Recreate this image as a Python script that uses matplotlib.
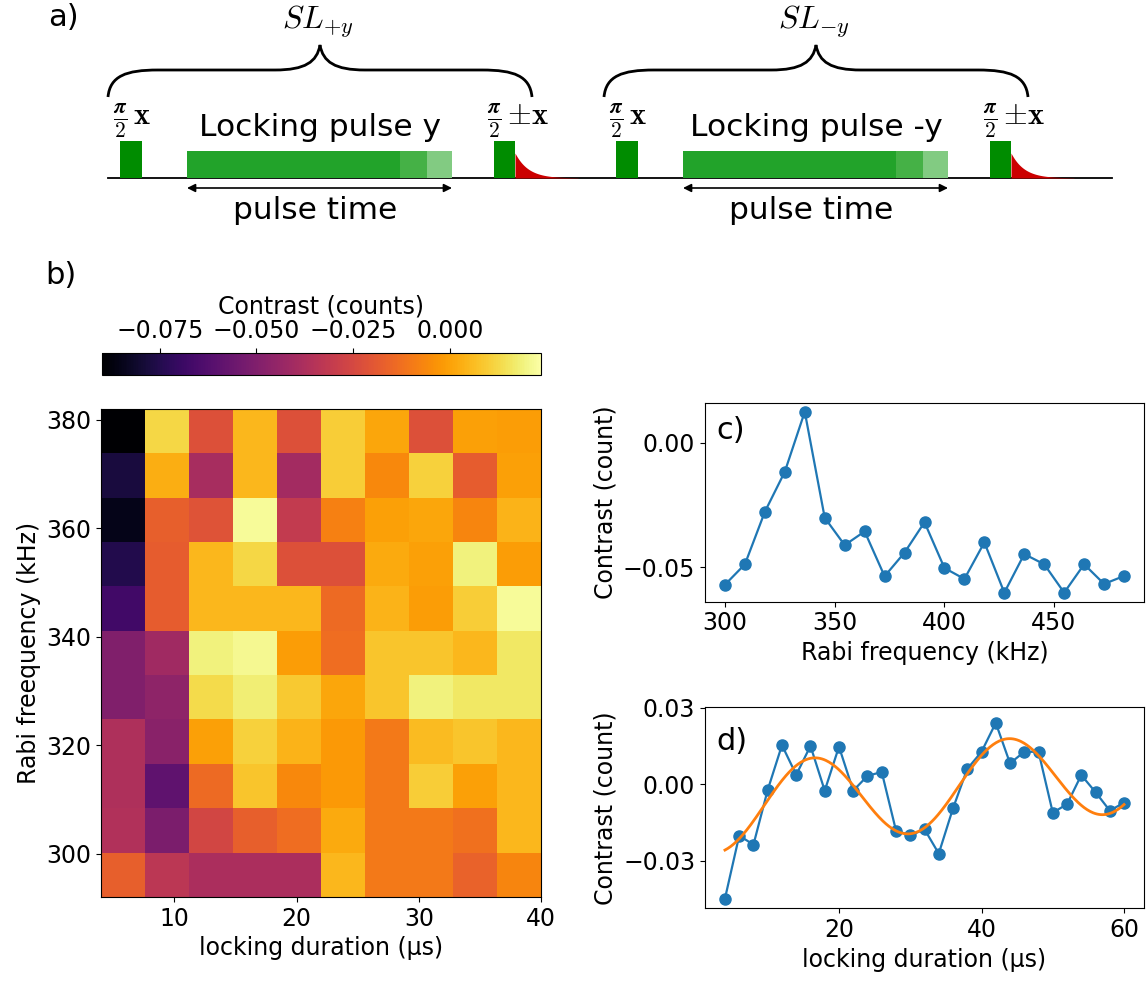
import numpy as np
import matplotlib
matplotlib.use('Agg')
import matplotlib.pyplot as plt
from matplotlib.path import Path
from matplotlib.patches import PathPatch, Rectangle, FancyArrowPatch

plt.rcParams['mathtext.fontset'] = 'cm'
plt.rcParams['font.family'] = ['DejaVu Sans']
plt.rcParams['font.size'] = 17

# ---------------- data ----------------
# panel b: heatmap (rows top->bottom = high->low Rabi frequency)
lock_extent = [4, 40]
rabi_extent = [292, 382]
heat_rows = [
    [-0.090, 0.012, -0.022, 0.005, -0.022, 0.010, 0.001, -0.022, 0.000, -0.001],
    [-0.078, 0.003, -0.039, 0.005, -0.040, 0.010, -0.006, 0.011, -0.018, 0.000],
    [-0.085, -0.017, -0.021, 0.022, -0.031, -0.008, 0.000, 0.001, -0.007, 0.004],
    [-0.075, -0.018, 0.005, 0.012, -0.022, -0.022, 0.002, 0.000, 0.019, -0.001],
    [-0.067, -0.018, 0.005, 0.005, 0.005, -0.014, 0.004, -0.001, 0.010, 0.022],
    [-0.050, -0.041, 0.019, 0.021, -0.001, -0.013, 0.008, 0.008, 0.005, 0.016],
    [-0.050, -0.046, 0.013, 0.018, 0.009, 0.001, 0.008, 0.019, 0.016, 0.016],
    [-0.037, -0.047, 0.000, 0.011, 0.004, -0.002, -0.010, 0.006, 0.008, 0.005],
    [-0.037, -0.059, -0.014, 0.008, -0.006, -0.002, -0.010, 0.010, 0.000, 0.005],
    [-0.036, -0.051, -0.026, -0.017, -0.013, 0.002, -0.010, -0.010, -0.012, 0.005],
    [-0.017, -0.033, -0.038, -0.038, -0.038, 0.005, -0.010, -0.010, -0.016, -0.007],
]
cbar_ticks = [-0.075, -0.050, -0.025, 0.000]
cbar_vmin, cbar_vmax = -0.090, 0.0235

# panel c
c_freq = [300.0, 309.1, 318.2, 327.3, 336.4, 345.5, 354.6, 363.7, 372.8, 381.9,
          391.0, 400.1, 409.2, 418.3, 427.4, 436.5, 445.6, 454.7, 463.8, 472.9, 482.0]
c_contrast = [-0.0570, -0.0488, -0.0277, -0.0116, 0.0125, -0.0301, -0.0411, -0.0356,
              -0.0536, -0.0441, -0.0319, -0.0503, -0.0547, -0.0400, -0.0602, -0.0447,
              -0.0488, -0.0602, -0.0488, -0.0567, -0.0535]

# panel d
d_time = [4, 6, 8, 10, 12, 14, 16, 18, 20, 22, 24, 26, 28, 30, 32, 34, 36, 38, 40,
          42, 44, 46, 48, 50, 52, 54, 56, 58, 60]
d_contrast = [-0.0447, -0.0201, -0.0236, -0.0022, 0.0153, 0.0037, 0.0150, -0.0025,
              0.0147, -0.0025, 0.0033, 0.0048, -0.0181, -0.0200, -0.0176, -0.0271,
              -0.0094, 0.0060, 0.0127, 0.0240, 0.0082, 0.0127, 0.0127, -0.0111,
              -0.0078, 0.0036, -0.0031, -0.0103, -0.0072]
# sinusoid + linear trend fit parameters
fit_amp, fit_period, fit_t0, fit_offset, fit_slope = 0.0167, 27.3, 9.5, -0.0109, 0.000275

W, H = 1148, 981
fig = plt.figure(figsize=(W / 100, H / 100), dpi=100)

def fbox(l, t, r, b):
    return [l / W, 1 - b / H, (r - l) / W, (b - t) / H]

# ---------------- panel a: pulse schematic ----------------
TOP_H = 250
axa = fig.add_axes([0, 1 - TOP_H / H, 1, TOP_H / H])
axa.set_xlim(0, W)
axa.set_ylim(TOP_H, 0)
axa.axis('off')

base_y = 178
axa.plot([108, 1112], [base_y, base_y], color='black', lw=1.3, zorder=1)

def brace(ax, x0, x1, y_end=97, y_mid=70, y_tip=45):
    xc = 0.5 * (x0 + x1)
    verts = [(x0, y_end), (x0 + 2, y_mid + 6), (x0 + 18, y_mid), (x0 + 50, y_mid),
             (xc - 45, y_mid),
             (xc - 15, y_mid), (xc - 3, y_mid - 8), (xc, y_tip),
             (xc + 3, y_mid - 8), (xc + 15, y_mid), (xc + 45, y_mid),
             (x1 - 50, y_mid),
             (x1 - 18, y_mid), (x1 - 2, y_mid + 6), (x1, y_end)]
    codes = [Path.MOVETO, Path.CURVE4, Path.CURVE4, Path.CURVE4,
             Path.LINETO,
             Path.CURVE4, Path.CURVE4, Path.CURVE4,
             Path.CURVE4, Path.CURVE4, Path.CURVE4,
             Path.LINETO,
             Path.CURVE4, Path.CURVE4, Path.CURVE4]
    ax.add_patch(PathPatch(Path(verts, codes), fill=False, lw=2.0, color='black'))

dark_green = '#008c00'
lock_cols = ['#22a32a', '#45b146', '#82cb82']

def sequence(ax, x_off, lock_label, sl_label):
    brace(ax, 108 + x_off, 532 + x_off)
    ax.text(318 + x_off, 22, sl_label, ha='center', va='center', fontsize=23)
    # pi/2 pulses
    ax.add_patch(Rectangle((120 + x_off, 141), 22, base_y - 141, color=dark_green, lw=0, zorder=2))
    ax.add_patch(Rectangle((494 + x_off, 141), 21, base_y - 141, color=dark_green, lw=0, zorder=2))
    ax.text(132 + x_off, 121, r'$\frac{\boldsymbol{\pi}}{\mathbf{2}}\,\mathbf{x}$',
            ha='center', va='center', fontsize=22)
    ax.text(518 + x_off, 121, r'$\frac{\boldsymbol{\pi}}{\mathbf{2}}\,\boldsymbol{\pm}\mathbf{x}$',
            ha='center', va='center', fontsize=22)
    # locking pulse (three shades)
    edges = [187, 400, 427, 452]
    for i in range(3):
        ax.add_patch(Rectangle((edges[i] + x_off, 151), edges[i + 1] - edges[i], base_y - 151,
                               color=lock_cols[i], lw=0, zorder=2))
    ax.text(320 + x_off, 127, lock_label, ha='center', va='center', fontsize=22.5)
    # readout decay
    xs = np.linspace(515, 578, 120)
    ax.fill_between(xs + x_off, base_y - 25 * np.exp(-(xs - 515) / 13.0), base_y,
                    color='#cc0000', lw=0, zorder=2)
    # arrow
    ax.add_patch(FancyArrowPatch((187 + x_off, 188), (452 + x_off, 188), arrowstyle='<|-|>',
                                 mutation_scale=12, lw=1.2, color='black', shrinkA=0, shrinkB=0))
    ax.text(315 + x_off, 211, 'pulse time', ha='center', va='center', fontsize=22.5)

sequence(axa, 0, 'Locking pulse y', r'$SL_{+y}$')
sequence(axa, 496, 'Locking pulse -y', r'$SL_{-y}$')
axa.text(48, 18, 'a)', ha='left', va='center', fontsize=22)

fig.text(45 / W, 1 - 275 / H, 'b)', ha='left', va='center', fontsize=22)

# ---------------- panel b: heatmap ----------------
axb = fig.add_axes(fbox(101, 409, 541, 897))
im = axb.imshow(np.array(heat_rows), cmap='inferno', vmin=cbar_vmin, vmax=cbar_vmax,
                extent=[lock_extent[0], lock_extent[1], rabi_extent[0], rabi_extent[1]],
                origin='upper', aspect='auto', interpolation='nearest')
axb.set_xticks([10, 20, 30, 40])
axb.set_yticks([300, 320, 340, 360, 380])
axb.set_xlabel('locking duration (µs)')
axb.set_ylabel('Rabi freequency (kHz)')

cax = fig.add_axes(fbox(101.7, 352.7, 540.7, 374.5))
cb = fig.colorbar(im, cax=cax, orientation='horizontal')
cb.set_ticks(cbar_ticks)
cax.xaxis.set_ticks_position('top')
cax.xaxis.set_label_position('top')
cb.set_label('Contrast (counts)', labelpad=4)

# ---------------- panel c ----------------
axc = fig.add_axes(fbox(705, 402.7, 1144, 601.7))
axc.plot(c_freq, c_contrast, '-o', color='#1f77b4', lw=1.6, ms=8)
axc.set_xticks([300, 350, 400, 450])
axc.set_yticks([-0.05, 0.00])
axc.set_xlabel('Rabi frequency (kHz)')
axc.set_ylabel('Contrast (count)')
axc.text(0.025, 0.86, 'c)', transform=axc.transAxes, ha='left', va='center', fontsize=22)

# ---------------- panel d ----------------
axd = fig.add_axes(fbox(705, 707.3, 1144, 908.3))
axd.plot(d_time, d_contrast, '-o', color='#1f77b4', lw=1.6, ms=8)
t_fit = np.linspace(min(d_time), max(d_time), 400)
y_fit = (fit_amp * np.sin(2 * np.pi * (t_fit - fit_t0) / fit_period)
         + fit_offset + fit_slope * t_fit)
axd.plot(t_fit, y_fit, color='#ff7f0e', lw=2)
axd.set_ylim(-0.0485, 0.0301)
axd.set_xticks([20, 40, 60])
axd.set_yticks([-0.03, 0.00, 0.03])
axd.set_xlabel('locking duration (µs)')
axd.set_ylabel('Contrast (count)')
axd.text(0.025, 0.83, 'd)', transform=axd.transAxes, ha='left', va='center', fontsize=22)

fig.savefig('out.png', dpi=100)
